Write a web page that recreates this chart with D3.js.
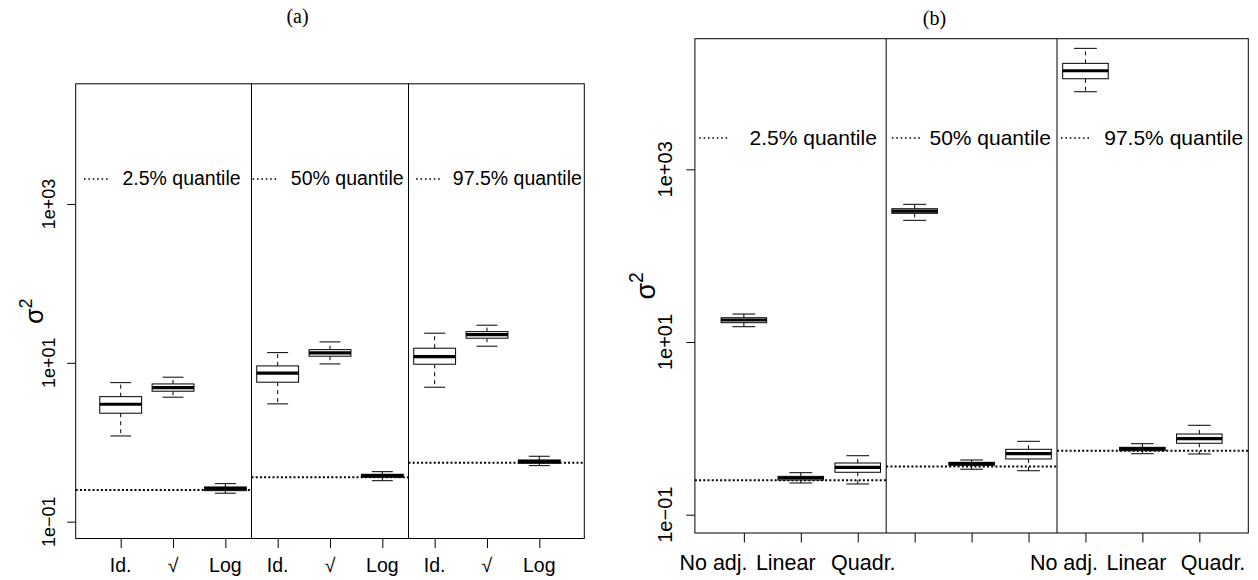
<!DOCTYPE html>
<html><head><meta charset="utf-8">
<script src="https://cdn.jsdelivr.net/npm/d3@7"></script>
<style>body{margin:0;background:#fff} svg{display:block}</style>
</head><body><svg id="c" width="1258" height="580"></svg>
<script>
// ---------------- data ----------------
const quantileLabels = ["2.5% quantile", "50% quantile", "97.5% quantile"];
const trueQuantiles = [0.25, 0.362, 0.552];
const methodsA = ["Id.", "\u221A", "Log"];
const methodsB = ["No adj.", "Linear", "Quadr."];
const yTickValues = [0.1, 10, 1000];
const yTickLabels = ["1e\u221201", "1e+01", "1e+03"];
const yLimits = [0.1, 20000];

// panel (a): 9 boxes (3 quantiles x Id., sqrt, Log)
const lowA  = [1.20, 3.69, 0.228,  3.04,  9.68, 0.328,  4.93, 16.19, 0.5075];
const q1A   = [2.32, 4.39, 0.2457, 5.70, 12.11, 0.362,  9.60, 20.41, 0.5438];
const medA  = [3.01, 4.87, 0.260,  7.40, 13.33, 0.380, 11.97, 22.66, 0.5696];
const q3A   = [3.75, 5.42, 0.2735, 9.14, 14.66, 0.395, 15.27, 24.70, 0.5985];
const highA = [5.63, 6.59, 0.301, 13.44, 18.33, 0.426, 23.60, 29.76, 0.666];

// panel (b): 9 boxes (3 quantiles x No adj., Linear, Quadr.)
const lowB  = [15.04, 0.233, 0.227, 256.7, 0.336, 0.323,  7920, 0.5085, 0.505];
const q1B   = [16.74, 0.252, 0.310, 309.4, 0.373, 0.442, 11200, 0.551,  0.672];
const medB  = [17.98, 0.266, 0.354, 328.9, 0.390, 0.5085, 13870, 0.577, 0.759];
const q3B   = [19.11, 0.278, 0.397, 349.8, 0.404, 0.572, 16890, 0.603,  0.860];
const highB = [21.10, 0.3065, 0.482, 393.3, 0.430, 0.708, 25190, 0.664, 1.085];

// ---------------- layout ----------------
const SANS = "'Liberation Sans', Arial, Helvetica, sans-serif";
const SERIF = "'Liberation Serif', 'Times New Roman', serif";
const panelA = {
  title: "(a)", titleX: 297.5, titleY: 23,
  left: 75.7, right: 584.3, top: 83.8, bottom: 538.5,
  labels: methodsA, labelPos: null, labelY: 571.5, labelSize: 19.5,
  tickLabelSize: 18, tickLabelOff: 20.5,
  sigmaX: 43, sigmaSize: 25,
  legendDotStart: [0.298, 3.52, 6.646], legendDotLen: 25,
  legendTextStart: [1.033, 4.252, 7.348], legendDotY: 179, legendTextY: 185, legendSize: 19.5,
  low: lowA, q1: q1A, med: medA, q3: q3A, high: highA
};
const panelB = {
  title: "(b)", titleX: 934.4, titleY: 24.5,
  left: 694.9, right: 1248.3, top: 38.7, bottom: 533.0,
  labels: methodsB, labelPos: [0.467, 1.736, 3.098, null, null, null, 6.622, 7.895, 9.241],
  labelY: 570, labelSize: 21.5,
  tickLabelSize: 20, tickLabelOff: 22.5,
  sigmaX: 655, sigmaSize: 27,
  legendDotStart: [0.215, 3.6, 6.57], legendDotLen: 28,
  legendTextStart: [1.1, 4.26, 7.33], legendDotY: 138, legendTextY: 145, legendSize: 21,
  low: lowB, q1: q1B, med: medB, q3: q3B, high: highB
};

const svg = d3.select("#c");

function drawPanel(p) {
  const g = svg.append("g");
  const n = 9;
  const x = d3.scaleLinear().domain([0.5 - 0.04 * n, n + 0.5 + 0.04 * n]).range([p.left, p.right]);
  const lspan = Math.log10(yLimits[1]) - Math.log10(yLimits[0]);
  const y = d3.scaleLog()
    .domain([Math.pow(10, Math.log10(yLimits[0]) - 0.04 * lspan), Math.pow(10, Math.log10(yLimits[1]) + 0.04 * lspan)])
    .range([p.bottom, p.top]);
  const xDom = x.domain();

  // title
  g.append("text").attr("x", p.titleX).attr("y", p.titleY).attr("text-anchor", "middle")
    .style("font-family", SERIF).style("font-size", "20px").text(p.title);

  // quantile reference lines (dotted), one per section
  trueQuantiles.forEach((q, k) => {
    const a = k === 0 ? xDom[0] : 0.5 + 3 * k;
    const b = k === 2 ? xDom[1] : 3.5 + 3 * k;
    g.append("line").attr("x1", x(a)).attr("x2", x(b))
      .attr("y1", y(q)).attr("y2", y(q))
      .attr("stroke", "#000").attr("stroke-width", 2).attr("stroke-dasharray", "2 2.2");
  });

  // legends
  quantileLabels.forEach((lab, k) => {
    const x0 = x(p.legendDotStart[k]);
    g.append("line").attr("x1", x0).attr("x2", x0 + p.legendDotLen)
      .attr("y1", p.legendDotY).attr("y2", p.legendDotY)
      .attr("stroke", "#000").attr("stroke-width", 1.6).attr("stroke-dasharray", "1.6 2.8");
    g.append("text").attr("x", x(p.legendTextStart[k])).attr("y", p.legendTextY)
      .style("font-family", SANS).style("font-size", p.legendSize + "px").text(lab);
  });

  // boxes
  const idx = d3.range(n);
  const bw = 0.8, cw = 0.4;
  idx.forEach(i => {
    const cx = x(i + 1);
    const hw = (x(1 + bw / 2) - x(1));
    const cap = (x(1 + cw / 2) - x(1));
    [[p.q3[i], p.high[i]], [p.q1[i], p.low[i]]].forEach(([a, b]) => {
      g.append("line").attr("x1", cx).attr("x2", cx).attr("y1", y(a)).attr("y2", y(b))
        .attr("stroke", "#000").attr("stroke-width", 1).attr("stroke-dasharray", "4 4");
      g.append("line").attr("x1", cx - cap).attr("x2", cx + cap).attr("y1", y(b)).attr("y2", y(b))
        .attr("stroke", "#000").attr("stroke-width", 1);
    });
    g.append("rect").attr("x", cx - hw).attr("width", 2 * hw)
      .attr("y", y(p.q3[i])).attr("height", y(p.q1[i]) - y(p.q3[i]))
      .attr("fill", "#fff").attr("stroke", "#000").attr("stroke-width", 1);
    g.append("line").attr("x1", cx - hw).attr("x2", cx + hw).attr("y1", y(p.med[i])).attr("y2", y(p.med[i]))
      .attr("stroke", "#000").attr("stroke-width", 3.2);
  });

  // dividers
  [3.5, 6.5].forEach(v => {
    g.append("line").attr("x1", x(v)).attr("x2", x(v)).attr("y1", p.top).attr("y2", p.bottom)
      .attr("stroke", "#000").attr("stroke-width", 1);
  });

  // frame
  g.append("rect").attr("x", p.left).attr("y", p.top).attr("width", p.right - p.left)
    .attr("height", p.bottom - p.top).attr("fill", "none").attr("stroke", "#000").attr("stroke-width", 1);

  // y axis
  const yAxis = d3.axisLeft(y).tickValues(yTickValues).tickSize(8.5).tickFormat("");
  const ya = g.append("g").attr("transform", `translate(${p.left},0)`).call(yAxis);
  ya.select(".domain").remove();
  ya.selectAll("line").attr("stroke", "#000");
  yTickValues.forEach((v, k) => {
    g.append("text").attr("transform", `translate(${p.left - p.tickLabelOff},${y(v)}) rotate(-90)`)
      .attr("text-anchor", "middle").style("font-family", SANS).style("font-size", p.tickLabelSize + "px")
      .text(yTickLabels[k]);
  });

  // x axis
  const xAxis = d3.axisBottom(x).tickValues(d3.range(1, n + 1)).tickSize(9.5).tickFormat("");
  const xa = g.append("g").attr("transform", `translate(0,${p.bottom})`).call(xAxis);
  xa.select(".domain").remove();
  xa.selectAll("line").attr("stroke", "#000");
  idx.forEach(i => {
    const pos = p.labelPos ? p.labelPos[i] : i + 1;
    if (pos === null) return;
    g.append("text").attr("x", x(pos)).attr("y", p.labelY).attr("text-anchor", "middle")
      .style("font-family", SANS).style("font-size", p.labelSize + "px")
      .text(p.labels[i % 3]);
  });

  // y label sigma^2
  const cy = (p.top + p.bottom) / 2;
  const t = g.append("text").attr("transform", `translate(${p.sigmaX},${cy}) rotate(-90)`)
    .attr("text-anchor", "middle").style("font-family", SANS).style("font-size", p.sigmaSize + "px");
  t.append("tspan").text("\u03C3");
  t.append("tspan").attr("dy", -p.sigmaSize * 0.45).style("font-size", (p.sigmaSize * 0.72) + "px").text("2");
}

drawPanel(panelA);
drawPanel(panelB);
</script></body></html>
